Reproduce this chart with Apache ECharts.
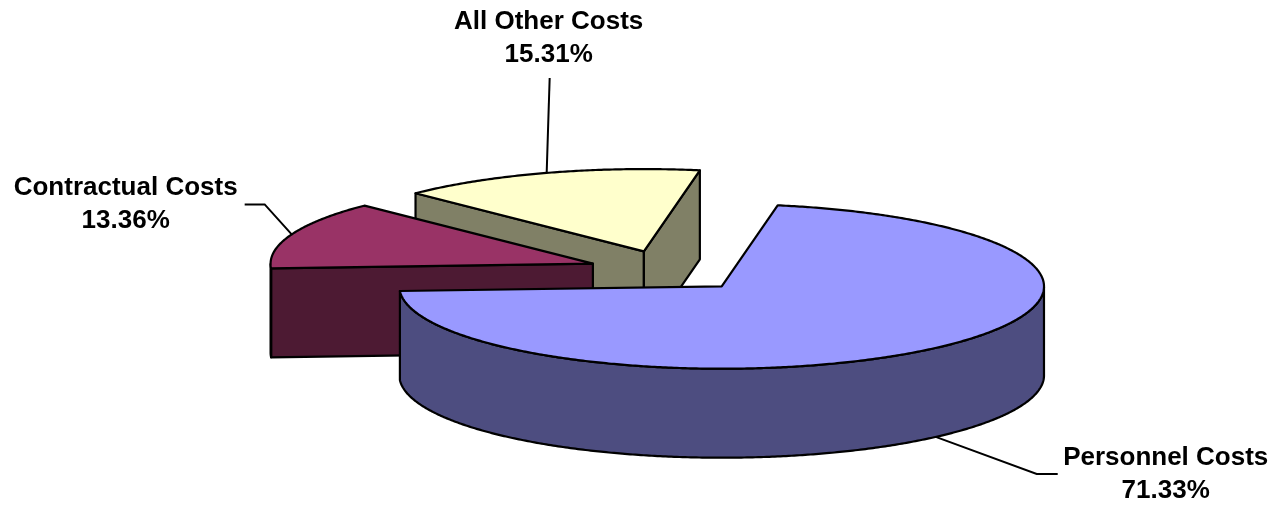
<!DOCTYPE html>
<html>
<head>
<meta charset="utf-8">
<script src="https://cdn.jsdelivr.net/npm/echarts@6/dist/echarts.min.js"></script>
<style>
  html, body { margin: 0; padding: 0; background: #ffffff; }
  #chart { width: 1279px; height: 509px; }
</style>
</head>
<body>
<div id="chart"></div>
<script>
// Cost breakdown (percent of total)
const categories = ['Personnel Costs', 'Contractual Costs', 'All Other Costs'];
const shares = [71.33, 13.36, 15.31];
const topColors = ['#9999FF', '#993366', '#FFFFCC'];
const sideColors = ['#4D4D80', '#4D1A33', '#808066'];

// Geometry of the tilted (3D) pie: ellipse radii, thickness, explosion
const PIE = { cx: 668.2, cy: 271.0, rx: 322.3, ry: 82.3, depth: 89, explode: 0.25, startDeg: 10 };

// Leader-line bends and label centres, relative to each slice's anchor point
const LABEL_LAYOUT = [
  { bends: [[101, 37], [122, 37]], text: [230, 37] },
  { bends: [[-27, -30], [-47, -30]], text: [-166, -30] },
  { bends: [[3, -95]], text: [2, -135] }
];

const FONT = 'bold 26px "Liberation Sans", Arial, sans-serif';
const RAD = Math.PI / 180;
const total = shares.reduce((s, v) => s + v, 0);

// slice angle ranges (clockwise from 12 o'clock)
const ranges = [];
(function () {
  let acc = 0;
  shares.forEach(v => {
    const s = PIE.startDeg + 360 * acc / total;
    acc += v;
    const e = PIE.startDeg + 360 * acc / total;
    ranges.push({ s, e, m: (s + e) / 2 });
  });
})();

// painter order: slices further back are drawn first
const order = ranges.map((r, i) => i).sort((a, b) => Math.cos(ranges[b].m * RAD) - Math.cos(ranges[a].m * RAD));
const rank = [];
order.forEach((idx, k) => { rank[idx] = k; });

function ellPt(c, deg, dy) {
  return [c[0] + PIE.rx * Math.sin(deg * RAD), c[1] - PIE.ry * Math.cos(deg * RAD) + (dy || 0)];
}

function renderItem(params, api) {
  const i = params.dataIndex;
  const value = api.value(0);
  const r = ranges[i];
  const base = rank[i] * 10;
  const c = [
    PIE.cx + PIE.explode * PIE.rx * Math.sin(r.m * RAD),
    PIE.cy - PIE.explode * PIE.ry * Math.cos(r.m * RAD)
  ];
  const D = PIE.depth;
  const stroke = { stroke: '#000', lineWidth: 2.2, lineJoin: 'round' };
  const children = [];

  // radial walls
  const walls = [];
  if (Math.cos((r.s - 90) * RAD) < 0) walls.push(r.s);
  if (Math.cos((r.e + 90) * RAD) < 0) walls.push(r.e);
  walls.forEach(a => {
    const p = ellPt(c, a);
    children.push({
      type: 'polygon', z2: base + 1,
      shape: { points: [c, p, [p[0], p[1] + D], [c[0], c[1] + D]] },
      style: Object.assign({ fill: sideColors[i] }, stroke)
    });
  });

  // outer curved side (front-facing part only)
  const step = 0.5;
  let run = [];
  const runs = [];
  for (let a = r.s; a <= r.e + 1e-9; a += step) {
    const aa = Math.min(a, r.e);
    if (Math.cos(aa * RAD) <= 0) run.push(aa);
    else if (run.length) { runs.push(run); run = []; }
  }
  if (Math.cos(r.e * RAD) <= 0 && run[run.length - 1] !== r.e) run.push(r.e);
  if (run.length) runs.push(run);
  runs.forEach(rn => {
    if (rn.length < 2) return;
    const topArc = rn.map(a => ellPt(c, a));
    const botArc = rn.slice().reverse().map(a => ellPt(c, a, D));
    children.push({
      type: 'polygon', z2: base + 2,
      shape: { points: topArc.concat(botArc) },
      style: Object.assign({ fill: sideColors[i] }, stroke)
    });
  });

  // top face
  const topPts = [c];
  for (let a = r.s; a < r.e; a += step) topPts.push(ellPt(c, a));
  topPts.push(ellPt(c, r.e));
  children.push({
    type: 'polygon', z2: base + 3,
    shape: { points: topPts },
    style: Object.assign({ fill: topColors[i] }, stroke)
  });

  // leader line and label
  const front = Math.cos(r.m * RAD) < 0;
  const anchor = ellPt(c, r.m, front ? D : 0);
  const lay = LABEL_LAYOUT[i];
  const linePts = [anchor].concat(lay.bends.map(b => [anchor[0] + b[0], anchor[1] + b[1]]));
  children.push({
    type: 'polyline', z2: 100,
    shape: { points: linePts },
    style: { stroke: '#000', lineWidth: 2, fill: null }
  });
  children.push({
    type: 'text', z2: 101,
    style: {
      text: categories[i] + '\n' + value.toFixed(2) + '%',
      x: anchor[0] + lay.text[0],
      y: anchor[1] + lay.text[1],
      align: 'center',
      verticalAlign: 'middle',
      font: FONT,
      lineHeight: 33,
      fill: '#000'
    }
  });

  return { type: 'group', children };
}

const chart = echarts.init(document.getElementById('chart'), null, { renderer: 'canvas' });
chart.setOption({
  backgroundColor: '#ffffff',
  animation: false,
  series: [{
    type: 'custom',
    coordinateSystem: 'none',
    silent: true,
    renderItem: renderItem,
    data: shares.map((v, i) => ({ name: categories[i], value: [v] }))
  }]
});
</script>
</body>
</html>
